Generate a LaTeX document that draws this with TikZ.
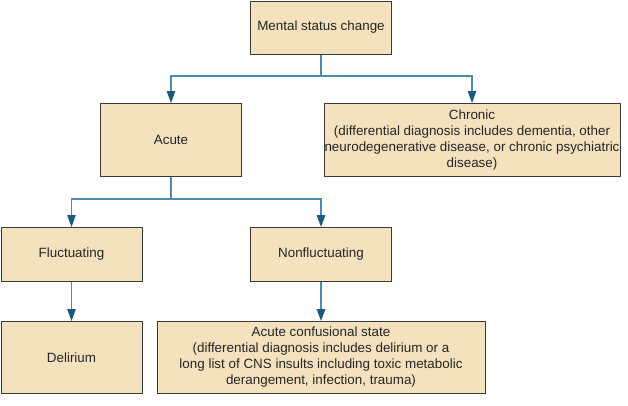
\documentclass[tikz,border=0pt]{standalone}
\usepackage{fontspec}
\setmainfont{Liberation Sans}
\usetikzlibrary{arrows.meta,positioning}
\definecolor{boxfill}{HTML}{F4E1BD}
\definecolor{boxline}{HTML}{3C3A36}
\definecolor{flowline}{HTML}{4A8DAC}
\definecolor{flowhead}{HTML}{1A5B7C}
\tikzset{
  stage/.style={draw=boxline,fill=boxfill,line width=1pt,inner sep=0pt,align=center,
    font=\fontsize{13.4}{16}\selectfont,text=black!85},
  flow/.style={draw=flowline,line width=1.2pt},
  flowarr/.style={flow,-{Triangle[length=12pt,width=8.5pt,color=flowhead]}}
}
\begin{document}
\begin{tikzpicture}[x=1pt,y=-1pt]
    \useasboundingbox (0,0) rectangle (628,405);
    \node[stage,minimum width=141,minimum height=53] (msc) at (321, 27.5) {Mental status change}; %top
    \node[stage,minimum width=141,minimum height=73] (acute) at (171, 140) {Acute};
    \node[stage,minimum width=296,minimum height=73] (chronic) at (472, 140) {Chronic\\(differential diagnosis includes dementia, other\\neurodegenerative disease, or chronic psychiatric\\disease)};
    \node[stage,minimum width=141,minimum height=54] (fluct) at (71.5, 254.5) {Fluctuating};
    \node[stage,minimum width=141,minimum height=54] (nonfluct) at (321, 254.5) {Nonfluctuating};
    \node[stage,minimum width=141,minimum height=72] (delirium) at (71.5, 357.5) {Delirium};
    \node[stage,minimum width=328,minimum height=72] (acs) at (321, 357.5) {Acute confusional state\\(differential diagnosis includes delirium or a\\long list of CNS insults including toxic metabolic\\derangement, infection, trauma)};
    \coordinate (split1) at (321, 76); %first fork
    \coordinate (split2) at (171, 199); %second fork
    \draw[flow] (msc.south) -- (split1);
    \draw[flowarr] (split1) -| (acute.north);
    \draw[flowarr] (split1) -| (chronic.north);
    \draw[flow] (acute.south) -- (split2);
    \draw[flowarr] (split2) -| (fluct.north);
    \draw[flowarr] (split2) -| (nonfluct.north);
    \draw[flowarr] (fluct.south) -- (delirium.north);
    \draw[flowarr] (nonfluct.south) -- (acs.north);
\end{tikzpicture}
\end{document}
